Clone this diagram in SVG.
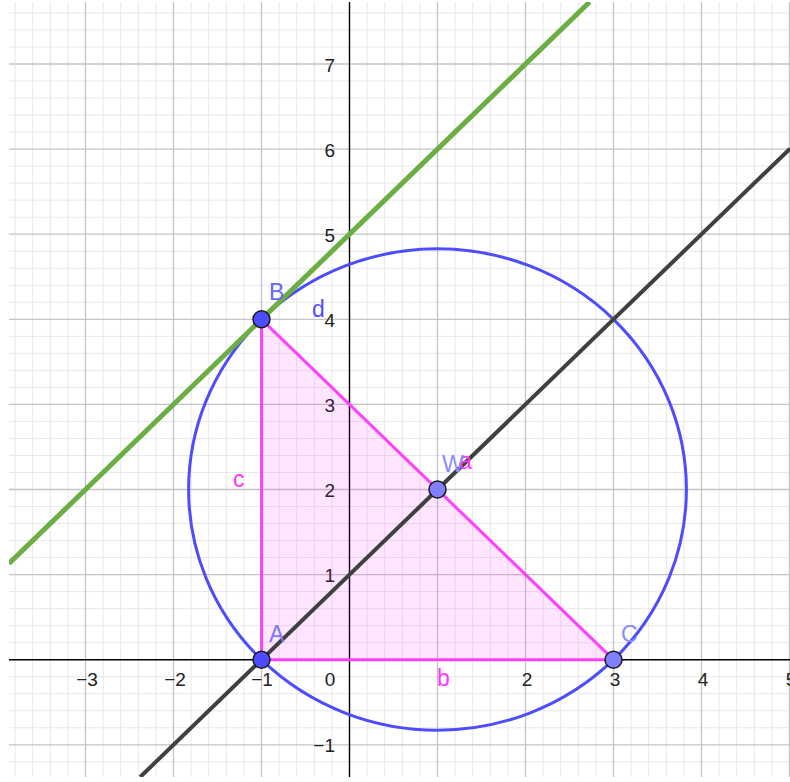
<svg xmlns="http://www.w3.org/2000/svg" width="790" height="782" viewBox="0 0 790 782">
<style>
.minor{stroke:#e8e8e8;stroke-width:1;fill:none}
.major{stroke:#c4c4c4;stroke-width:1.3;fill:none}
.axis{stroke:#000;stroke-width:1.4;fill:none}
.tick{font-family:"Liberation Sans",Arial,sans-serif;font-size:19px;fill:#222}
.tx{text-anchor:middle}
.ty{text-anchor:end}
.lbl{font-family:"Liberation Sans",Arial,sans-serif;font-size:23px}
.mag{fill:#ff33ff}
.pt{stroke:#1a1a1a;stroke-width:1.5}
</style>
<defs>
<clipPath id="area"><rect x="9" y="2" width="781" height="775"/></clipPath>
</defs>
<rect width="790" height="782" fill="#fff"/>
<g id="grid" clip-path="url(#area)">
<path class="minor" d="M15.1 2V777M32.7 2V777M50.3 2V777M67.9 2V777M103.1 2V777M120.7 2V777M138.3 2V777M155.9 2V777M191.1 2V777M208.7 2V777M226.3 2V777M243.9 2V777M279.1 2V777M296.7 2V777M314.3 2V777M331.9 2V777M367.1 2V777M384.7 2V777M402.3 2V777M419.9 2V777M455.1 2V777M472.7 2V777M490.3 2V777M507.9 2V777M543.1 2V777M560.7 2V777M578.3 2V777M595.9 2V777M631.1 2V777M648.7 2V777M666.3 2V777M683.9 2V777M719.1 2V777M736.7 2V777M754.3 2V777M771.9 2V777"/>
<path class="minor" d="M9 12.94H790M9 29.96H790M9 46.98H790M9 81.02H790M9 98.04H790M9 115.06H790M9 132.08H790M9 166.12H790M9 183.14H790M9 200.16H790M9 217.18H790M9 251.22H790M9 268.24H790M9 285.26H790M9 302.28H790M9 336.32H790M9 353.34H790M9 370.36H790M9 387.38H790M9 421.42H790M9 438.44H790M9 455.46H790M9 472.48H790M9 506.52H790M9 523.54H790M9 540.56H790M9 557.58H790M9 591.62H790M9 608.64H790M9 625.66H790M9 642.68H790M9 676.72H790M9 693.74H790M9 710.76H790M9 727.78H790M9 761.82H790"/>
<path class="major" d="M85.5 2V777M173.5 2V777M261.5 2V777M437.5 2V777M525.5 2V777M613.5 2V777M701.5 2V777M789.5 2V777"/>
<path class="major" d="M9 64H790M9 149.1H790M9 234.2H790M9 319.3H790M9 404.4H790M9 489.5H790M9 574.6H790M9 744.8H790"/>
<path class="axis" d="M349.5 2V777M9 659.7H790"/>
</g>
<g id="ticks">
<text class="tick tx" x="87" y="686">−3</text>
<text class="tick tx" x="175" y="686">−2</text>
<text class="tick tx" x="262" y="686">−1</text>
<text class="tick tx" x="330" y="686">0</text>
<text class="tick tx" x="527" y="686">2</text>
<text class="tick tx" x="615" y="686">3</text>
<text class="tick tx" x="703" y="686">4</text>
<text class="tick tx" x="791" y="686">5</text>
<text class="tick ty" x="335" y="71.5">7</text>
<text class="tick ty" x="335" y="156.5">6</text>
<text class="tick ty" x="335" y="241.5">5</text>
<text class="tick ty" x="335" y="326.5">4</text>
<text class="tick ty" x="335" y="411.5">3</text>
<text class="tick ty" x="335" y="496.5">2</text>
<text class="tick ty" x="335" y="581.5">1</text>
<text class="tick ty" x="335" y="752">−1</text>
</g>
<g id="triangle-fill">
<polygon points="261.5,659.7 261.5,319.3 613.5,659.7" fill="#ff00ff" fill-opacity="0.1"/>
</g>
<g id="connectors" clip-path="url(#area)">
<ellipse id="circle" cx="437.5" cy="489.5" rx="248.9" ry="240.7" fill="none" stroke="#4d4dff" stroke-width="3"/>
<line id="line-d" x1="9" y1="563.5" x2="589.6" y2="2" stroke="#6aae44" stroke-width="5"/>
<line id="line-AW" x1="140.2" y1="777" x2="790" y2="148.6" stroke="#404040" stroke-width="4"/>
<line id="seg-c" x1="261.5" y1="659.7" x2="261.5" y2="319.3" stroke="#ff40ff" stroke-width="3"/>
<line id="seg-b" x1="261.5" y1="659.7" x2="613.5" y2="659.7" stroke="#ff40ff" stroke-width="3"/>
<line id="seg-a" x1="261.5" y1="319.3" x2="613.5" y2="659.7" stroke="#ff40ff" stroke-width="3"/>
</g>
<g id="edge-labels" class="lbl">
<text class="mag" x="233" y="487">c</text>
<text class="mag" x="437" y="686">b</text>
<text class="mag" x="459" y="469">a</text>
<text x="312" y="317" fill="#4d4dff">d</text>
</g>
<g id="node-A">
<circle class="pt" cx="261.5" cy="659.7" r="8.5" fill="#4d4dff"/>
<text class="lbl" x="269" y="642" fill="#7a7aff">A</text>
</g>
<g id="node-B">
<circle class="pt" cx="261.5" cy="319.3" r="8.5" fill="#4d4dff"/>
<text class="lbl" x="269" y="300" fill="#6666ff">B</text>
</g>
<g id="node-C">
<circle class="pt" cx="613.5" cy="659.7" r="8.5" fill="#7f7fff"/>
<text class="lbl" x="621" y="642" fill="#8c8cff">C</text>
</g>
<g id="node-W">
<circle class="pt" cx="437.5" cy="489.5" r="8.5" fill="#7f7fff"/>
<text class="lbl" x="442" y="472" fill="#8c8cff">W</text>
</g>
</svg>
